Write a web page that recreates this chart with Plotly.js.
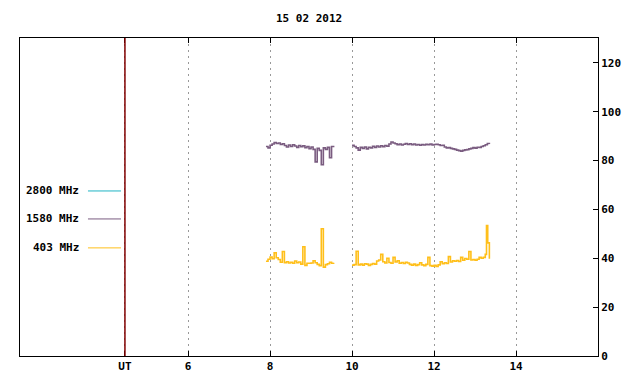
<!DOCTYPE html>
<html>
<head>
<meta charset="utf-8">
<script src="https://cdn.plot.ly/plotly-3.0.1.min.js"></script>
<style>html,body{margin:0;padding:0;background:#fff;}#chart{width:640px;height:384px;}</style>
</head>
<body>
<div id="chart"></div>
<script>
// ---- data ----
const chartTitle = "15 02 2012";
const seriesNames = ["2800 MHz", "1580 MHz", "403 MHz"];
const utPosition = 4.46;
const xTickVals = [4.46, 6, 8, 10, 12, 14];
const xTickText = ["UT", "6", "8", "10", "12", "14"];
const yTickVals = [0, 20, 40, 60, 80, 100, 120];

const t2800 = [];
const v2800 = [];

const t1580 = [7.90,7.95,8.00,8.05,8.10,8.15,8.20,8.25,8.30,8.35,8.40,8.45,8.50,8.55,8.60,8.65,8.70,8.75,8.80,8.85,8.90,8.95,9.00,9.05,9.10,9.15,9.20,9.25,9.30,9.35,9.40,9.45,9.50,9.55,
  9.75,
  10.00,10.05,10.10,10.15,10.20,10.25,10.30,10.35,10.40,10.45,10.50,10.55,10.60,10.65,10.70,10.75,10.80,10.85,10.90,10.95,11.00,11.05,11.10,11.15,11.20,11.25,11.30,11.35,11.40,11.45,11.50,11.55,11.60,11.65,11.70,11.75,11.80,11.85,11.90,11.95,12.00,12.05,12.10,12.15,12.20,12.25,12.30,12.35,12.40,12.45,12.50,12.55,12.60,12.65,12.70,12.75,12.80,12.85,12.90,12.95,13.00,13.05,13.10,13.15,13.20,13.25,13.30,13.35];
const v1580 = [85.8,85.2,86.3,86.8,87.4,87.0,87.2,86.6,86.9,86.2,85.6,86.4,85.8,86.5,86.0,85.4,86.2,85.7,86.1,85.3,85.8,84.9,85.6,84.6,79.5,85.0,84.2,78.3,85.2,84.6,85.4,81.2,85.8,86.1,
  null,
  86.3,85.8,85.2,84.3,85.4,85.0,85.6,84.8,85.5,85.2,85.9,85.4,86.0,85.6,86.1,85.7,86.2,85.9,86.8,87.6,87.2,86.9,86.5,86.8,86.4,86.7,87.0,86.6,86.9,86.5,86.8,86.4,86.6,86.3,86.6,86.4,86.7,86.5,86.8,86.4,86.6,86.7,86.5,86.2,86.3,85.6,85.2,85.3,85.0,84.8,84.6,84.3,84.1,83.9,84.2,84.4,84.5,84.8,85.0,85.3,85.1,85.5,85.4,85.8,86.1,86.5,87.0,86.8];

const t403 = [7.90,7.95,8.00,8.05,8.10,8.15,8.20,8.25,8.30,8.35,8.40,8.45,8.50,8.55,8.60,8.65,8.70,8.75,8.80,8.85,8.90,8.95,9.00,9.05,9.10,9.15,9.20,9.25,9.30,9.35,9.40,9.45,9.50,9.55,
  9.75,
  10.00,10.05,10.10,10.15,10.20,10.25,10.30,10.35,10.40,10.45,10.50,10.55,10.60,10.65,10.70,10.75,10.80,10.85,10.90,10.95,11.00,11.05,11.10,11.15,11.20,11.25,11.30,11.35,11.40,11.45,11.50,11.55,11.60,11.65,11.70,11.75,11.80,11.85,11.90,11.95,12.00,12.05,12.10,12.15,12.20,12.25,12.30,12.35,12.40,12.45,12.50,12.55,12.60,12.65,12.70,12.75,12.80,12.85,12.90,12.95,13.00,13.05,13.10,13.15,13.20,13.25,13.28,13.31,13.35];
const v403 = [38.8,39.6,40.5,39.8,42.3,40.2,39.5,38.4,42.8,38.2,38.6,38.1,38.4,38.0,38.9,38.2,38.5,37.6,44.7,37.1,38.0,38.0,38.1,39.0,38.2,37.5,37.0,52.1,36.4,37.4,37.8,38.4,38.0,38.2,
  null,
  37.2,37.4,42.9,37.3,37.6,37.2,37.8,37.6,37.1,37.5,37.9,37.6,38.9,39.3,41.6,38.6,38.1,40.0,38.3,38.0,40.4,38.5,39.0,38.0,38.3,37.9,38.4,38.1,37.5,37.2,37.6,37.1,37.4,38.2,37.3,37.0,37.5,40.4,37.0,36.8,37.1,36.7,37.3,38.6,37.8,38.2,37.9,40.7,38.5,39.0,38.8,39.1,38.7,40.4,39.2,39.9,39.6,42.8,39.3,39.5,39.2,39.6,40.4,40.0,40.4,41.6,53.4,46.3,39.8];

// ---- style ----
const colors = ["#20b4c4", "#7a5c80", "#ffbf1a"];
const fontFam = "DejaVu Sans Mono, Liberation Mono, monospace";

const traces = [
  {x: t2800, y: v2800, name: seriesNames[0], type: "scatter", mode: "lines", line: {color: colors[0], width: 1, shape: "hv"}, showlegend: false},
  {x: t1580, y: v1580, name: seriesNames[1], type: "scatter", mode: "lines", line: {color: colors[1], width: 1.6, shape: "hv"}, connectgaps: false, showlegend: false},
  {x: t403, y: v403, name: seriesNames[2], type: "scatter", mode: "lines", line: {color: colors[2], width: 1.6, shape: "hv"}, connectgaps: false, showlegend: false}
];

const legendY = [0.519, 0.431, 0.340];
const annotations = seriesNames.map((n, i) => ({
  xref: "paper", yref: "paper", x: 0.1055, y: legendY[i], xanchor: "right", yanchor: "middle",
  text: n, showarrow: false, font: {family: fontFam, size: 11, color: "#000", weight: "bold"}
}));
const shapes = seriesNames.map((n, i) => ({
  type: "line", xref: "paper", yref: "paper", x0: 0.1176, x1: 0.1747, y0: legendY[i], y1: legendY[i],
  line: {color: colors[i], width: 1}
}));
shapes.push({type: "line", xref: "x", yref: "paper", x0: utPosition, x1: utPosition, y0: 0, y1: 1, line: {color: "#800000", width: 1.5}});

const layout = {
  width: 640, height: 384,
  margin: {l: 20, r: 42, t: 38, b: 28, pad: 0},
  paper_bgcolor: "#fff", plot_bgcolor: "#fff",
  title: {text: chartTitle, x: 0.483, xanchor: "center", y: 0.953, yanchor: "middle", font: {family: fontFam, size: 11, color: "#000", weight: "bold"}},
  font: {family: fontFam, size: 11, color: "#000", weight: "bold"},
  showlegend: false,
  xaxis: {
    range: [1.9, 16.0], tickmode: "array", tickvals: xTickVals, ticktext: xTickText,
    ticks: "inside", ticklen: 5, tickcolor: "#000", mirror: "ticks",
    showline: true, linecolor: "#000", linewidth: 1,
    showgrid: true, gridcolor: "#999", griddash: "2px,4px", gridwidth: 1,
    zeroline: false, fixedrange: true,
    tickfont: {family: fontFam, size: 11, color: "#000", weight: "bold"}
  },
  yaxis: {
    range: [0, 130.2], side: "right", tickmode: "array", tickvals: yTickVals,
    ticks: "inside", ticklen: 5, tickcolor: "#000", mirror: true,
    showline: true, linecolor: "#000", linewidth: 1,
    showgrid: false, zeroline: false, fixedrange: true,
    tickfont: {family: fontFam, size: 11, color: "#000", weight: "bold"}
  },
  annotations: annotations,
  shapes: shapes
};

Plotly.newPlot("chart", traces, layout, {staticPlot: true, displayModeBar: false});
</script>
</body>
</html>
